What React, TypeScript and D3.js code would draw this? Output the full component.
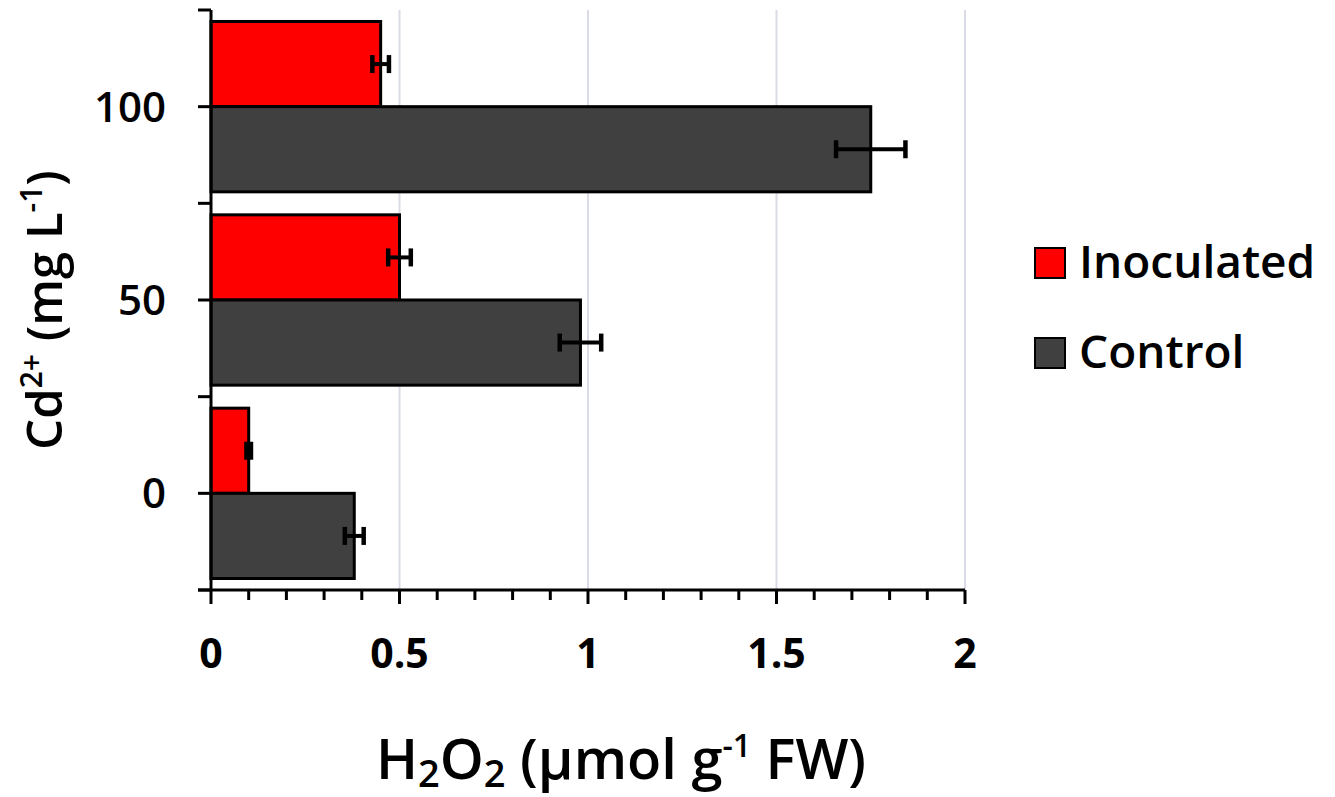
import React from 'react'
import * as d3 from 'd3'

const width = 1335
const height = 797

// Cd2+ levels, top to bottom
const categories = ['100', '50', '0']
const series = ['Inoculated', 'Control']
const colors = ['#ff0000', '#404040']
const inoculated = [0.45, 0.5, 0.1]
const inoculatedErr = [0.022, 0.03, 0.006]
const control = [1.75, 0.98, 0.38]
const controlErr = [0.092, 0.055, 0.025]
const xTicks = [0, 0.5, 1, 1.5, 2]

const font = "'Open Sans', sans-serif"

const margin = { top: 10, left: 211, right: 370, bottom: 207 }

const App = () => {
    const x = d3
        .scaleLinear()
        .domain([0, 2])
        .range([margin.left, width - margin.right])
    const y = d3
        .scaleBand()
        .domain(categories)
        .range([margin.top, height - margin.bottom])
    const inner = d3
        .scaleBand()
        .domain(series)
        .range([0, y.bandwidth()])
        .paddingOuter(0.135)

    const values = [inoculated, control]
    const errs = [inoculatedErr, controlErr]
    const bottom = height - margin.bottom
    const minor = d3.range(0, 2.0001, 0.1)

    // ticks at band edges and centres
    const yTicks: number[] = []
    categories.forEach((c) => {
        yTicks.push(y(c) as number)
        yTicks.push((y(c) as number) + y.bandwidth() / 2)
    })
    yTicks.push(bottom)

    return (
        <svg width={width} height={height} style={{ display: 'block', position: 'absolute', left: 0, top: 0 }}>
            <rect width={width} height={height} fill="#fff" />
            {/* grid */}
            {xTicks.slice(1).map((t) => (
                <line key={t} x1={x(t)} x2={x(t)} y1={margin.top} y2={bottom} stroke="#d9dbe6" strokeWidth={2} />
            ))}
            {/* bars */}
            {categories.map((c, i) =>
                series.map((s, j) => {
                    const by = (y(c) as number) + (inner(s) as number)
                    const v = values[j][i]
                    const e = errs[j][i]
                    const cy = by + inner.bandwidth() / 2
                    return (
                        <g key={c + s}>
                            <rect
                                x={x(0)}
                                y={by}
                                width={x(v) - x(0)}
                                height={inner.bandwidth()}
                                fill={colors[j]}
                                stroke="#000"
                                strokeWidth={3}
                            />
                            <line x1={x(v - e)} x2={x(v + e)} y1={cy} y2={cy} stroke="#000" strokeWidth={4} />
                            <line x1={x(v - e)} x2={x(v - e)} y1={cy - 9} y2={cy + 9} stroke="#000" strokeWidth={4.5} />
                            <line x1={x(v + e)} x2={x(v + e)} y1={cy - 9} y2={cy + 9} stroke="#000" strokeWidth={4.5} />
                        </g>
                    )
                })
            )}
            {/* y axis */}
            <line x1={x(0)} x2={x(0)} y1={margin.top} y2={bottom} stroke="#000" strokeWidth={3} />
            {yTicks.map((t, i) => (
                <line key={i} x1={x(0) - 13} x2={x(0)} y1={t} y2={t} stroke="#000" strokeWidth={3} />
            ))}
            {categories.map((c) => (
                <text
                    key={c}
                    x={166}
                    y={(y(c) as number) + y.bandwidth() / 2}
                    dy="0.36em"
                    textAnchor="end"
                    fontFamily={font}
                    fontWeight={600}
                    fontSize={42}
                >
                    {c}
                </text>
            ))}
            {/* x axis */}
            <line x1={x(0) - 13} x2={x(2)} y1={bottom} y2={bottom} stroke="#000" strokeWidth={3} />
            {minor.map((t, i) => (
                <line
                    key={i}
                    x1={x(t)}
                    x2={x(t)}
                    y1={bottom}
                    y2={bottom + (i % 5 === 0 ? 14 : 10)}
                    stroke="#000"
                    strokeWidth={3}
                />
            ))}
            {xTicks.map((t) => (
                <text
                    key={t}
                    x={x(t)}
                    y={668}
                    textAnchor="middle"
                    fontFamily={font}
                    fontWeight={700}
                    fontSize={41}
                >
                    {t}
                </text>
            ))}
            {/* axis titles */}
            <text x={621} y={779} textAnchor="middle" fontFamily={font} fontWeight={600} fontSize={56}>
                H<tspan fontSize={38} dy={8}>2</tspan>
                <tspan dy={-8}>O</tspan>
                <tspan fontSize={38} dy={8}>2</tspan>
                <tspan dy={-8}> (μmol g</tspan>
                <tspan fontSize={32} dy={-22}>-1</tspan>
                <tspan dy={22}> FW)</tspan>
            </text>
            <text
                transform="translate(62, 310) rotate(-90)"
                textAnchor="middle"
                fontFamily={font}
                fontWeight={600}
                fontSize={49}
            >
                Cd<tspan fontSize={30} dy={-20}>2+</tspan>
                <tspan dy={20}> (mg L</tspan>
                <tspan fontSize={30} dy={-20}>-1</tspan>
                <tspan dy={20}>)</tspan>
            </text>
            {/* legend */}
            {series.map((s, j) => (
                <g key={s} transform={`translate(1035, ${248 + j * 90})`}>
                    <rect width={30} height={30} fill={colors[j]} stroke="#000" strokeWidth={2} />
                    <text x={44} y={30} fontFamily={font} fontWeight={600} fontSize={46}>
                        {s}
                    </text>
                </g>
            ))}
        </svg>
    )
}

export default App
